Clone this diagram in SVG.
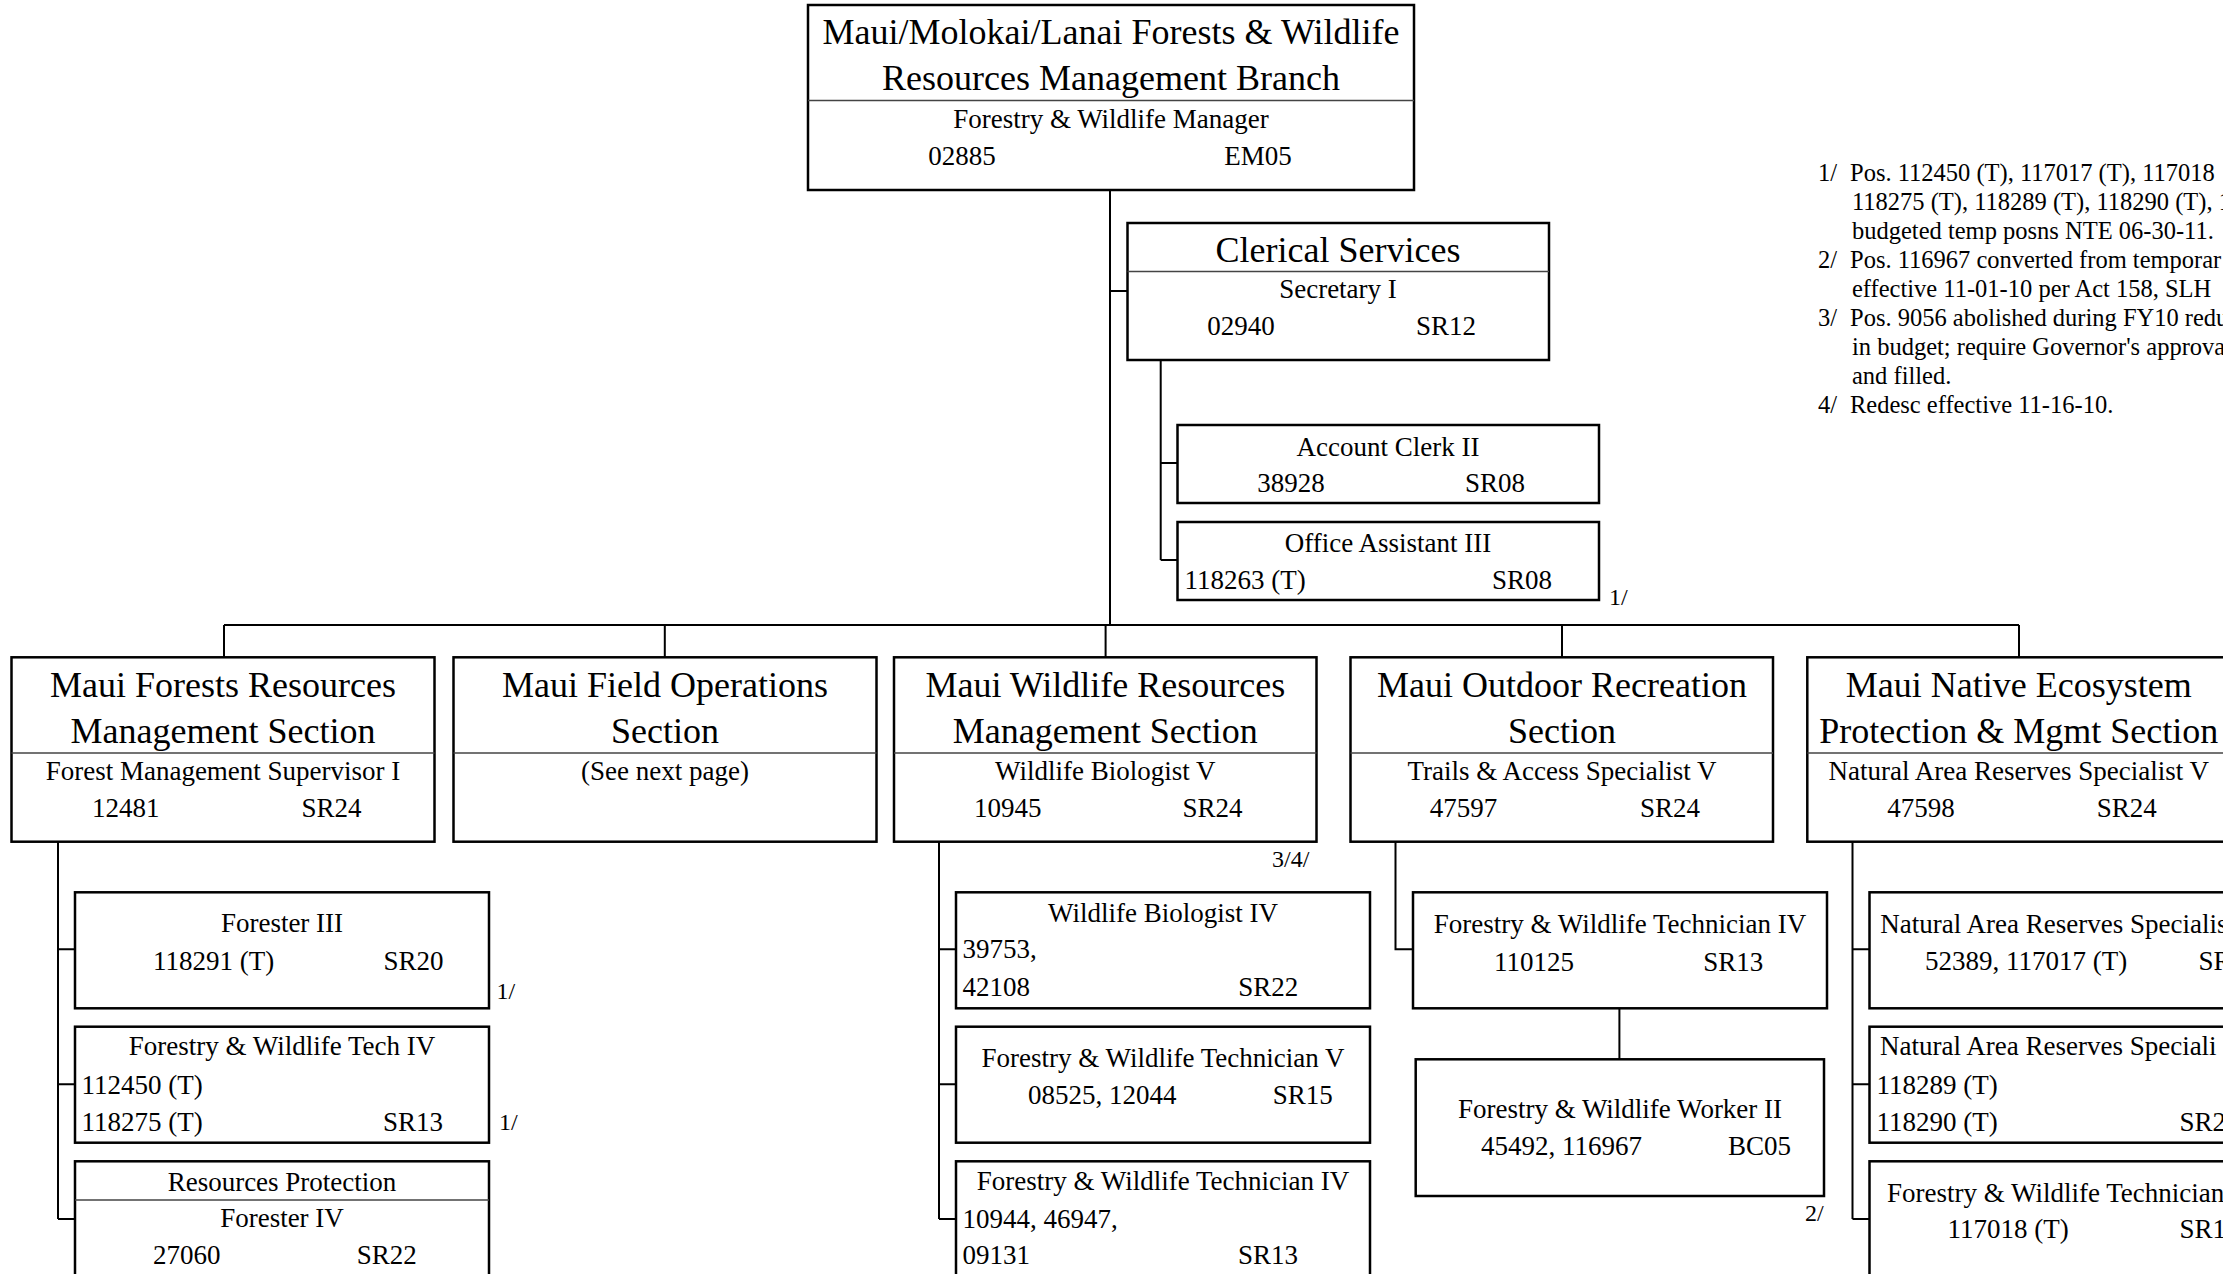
<svg xmlns="http://www.w3.org/2000/svg" width="2223" height="1274" viewBox="0 0 2223 1274">
<style>
  text { font-family: "Liberation Serif", "Times New Roman", serif; fill: #000; }
  .box { fill: #fff; stroke: #000; stroke-width: 2.5; }
  .dv { stroke: #444; stroke-width: 1.5; fill: none; }
  .conn { stroke: #000; stroke-width: 2; fill: none; }
  .h { font-size: 36px; text-anchor: middle; }
  .b { font-size: 27px; text-anchor: middle; }
  .bl { font-size: 27px; text-anchor: start; }
  .fn { font-size: 24.5px; }
  .note { font-size: 24px; }
</style>
<rect width="2223" height="1274" fill="#fff"/>

<g id="connectors">
  <path class="conn" d="M1110,190 V625"/>
  <path class="conn" d="M1110,291 H1127.5"/>
  <path class="conn" d="M1160.7,360 V560 M1160.7,463 H1177.5 M1160.7,560 H1177.5"/>
  <path class="conn" d="M224,625 H2019"/>
  <path class="conn" d="M224,625 V657 M664.8,625 V657 M1105.6,625 V657 M1562,625 V657 M2019,625 V657"/>
  <path class="conn" d="M58,842 V1219 M58,949.3 H75 M58,1084.3 H75 M58,1219 H75"/>
  <path class="conn" d="M939,842 V1219 M939,949.3 H956 M939,1084.3 H956 M939,1219 H956"/>
  <path class="conn" d="M1395.5,842 V949.3 H1413"/>
  <path class="conn" d="M1619.4,1008 V1059.3"/>
  <path class="conn" d="M1852.5,842 V1219 M1852.5,949.3 H1869.5 M1852.5,1084.3 H1869.5 M1852.5,1219 H1869.5"/>
</g>

<g id="branch">
  <rect class="box" x="808" y="5" width="606" height="185"/>
  <line class="dv" x1="808" y1="100.5" x2="1414" y2="100.5"/>
  <text class="h" x="1111" y="44">Maui/Molokai/Lanai Forests &amp; Wildlife</text>
  <text class="h" x="1111" y="90">Resources Management Branch</text>
  <text class="b" x="1111" y="128">Forestry &amp; Wildlife Manager</text>
  <text class="b" x="962" y="165">02885</text>
  <text class="b" x="1258" y="165">EM05</text>
</g>

<g id="clerical">
  <rect class="box" x="1127.5" y="223" width="421.5" height="137"/>
  <line class="dv" x1="1127.5" y1="271.5" x2="1549" y2="271.5"/>
  <text class="h" x="1338" y="262">Clerical Services</text>
  <text class="b" x="1338" y="298">Secretary I</text>
  <text class="b" x="1241" y="335">02940</text>
  <text class="b" x="1446" y="335">SR12</text>
</g>

<g id="account-clerk">
  <rect class="box" x="1177.5" y="425" width="421.5" height="78"/>
  <text class="b" x="1388" y="455.5">Account Clerk II</text>
  <text class="b" x="1291" y="492">38928</text>
  <text class="b" x="1495" y="492">SR08</text>
</g>

<g id="office-assistant">
  <rect class="box" x="1177.5" y="522" width="421.5" height="78"/>
  <text class="b" x="1388" y="552">Office Assistant III</text>
  <text class="bl" x="1184.5" y="588.5">118263 (T)</text>
  <text class="b" x="1522" y="588.5">SR08</text>
  <text class="note" x="1609" y="605">1/</text>
</g>

<g id="forests-section">
  <rect class="box" x="11.5" y="657.3" width="423" height="184.4"/>
  <line class="dv" x1="11.5" y1="753" x2="434.5" y2="753"/>
  <text class="h" x="223" y="697">Maui Forests Resources</text>
  <text class="h" x="223" y="743">Management Section</text>
  <text class="b" x="223" y="780">Forest Management Supervisor I</text>
  <text class="b" x="125.7" y="817">12481</text>
  <text class="b" x="331.5" y="817">SR24</text>
</g>

<g id="field-ops-section">
  <rect class="box" x="453.5" y="657.3" width="423" height="184.4"/>
  <line class="dv" x1="453.5" y1="753" x2="876.5" y2="753"/>
  <text class="h" x="665" y="697">Maui Field Operations</text>
  <text class="h" x="665" y="743">Section</text>
  <text class="b" x="665" y="780">(See next page)</text>
</g>

<g id="wildlife-section">
  <rect class="box" x="894" y="657.3" width="422.5" height="184.4"/>
  <line class="dv" x1="894" y1="753" x2="1316.5" y2="753"/>
  <text class="h" x="1105.3" y="697">Maui Wildlife Resources</text>
  <text class="h" x="1105.3" y="743">Management Section</text>
  <text class="b" x="1105.3" y="780">Wildlife Biologist V</text>
  <text class="b" x="1007.7" y="817">10945</text>
  <text class="b" x="1212.6" y="817">SR24</text>
  <text class="note" x="1272" y="867">3/4/</text>
</g>

<g id="outdoor-section">
  <rect class="box" x="1350.5" y="657.3" width="422.5" height="184.4"/>
  <line class="dv" x1="1350.5" y1="753" x2="1773" y2="753"/>
  <text class="h" x="1562" y="697">Maui Outdoor Recreation</text>
  <text class="h" x="1562" y="743">Section</text>
  <text class="b" x="1562" y="780">Trails &amp; Access Specialist V</text>
  <text class="b" x="1463.6" y="817">47597</text>
  <text class="b" x="1670" y="817">SR24</text>
</g>

<g id="native-section">
  <rect class="box" x="1807.3" y="657.3" width="423" height="184.4"/>
  <line class="dv" x1="1807.3" y1="753" x2="2230.3" y2="753"/>
  <text class="h" x="2018.8" y="697">Maui Native Ecosystem</text>
  <text class="h" x="2018.8" y="743">Protection &amp; Mgmt Section</text>
  <text class="b" x="2018.8" y="780">Natural Area Reserves Specialist V</text>
  <text class="b" x="1921" y="817">47598</text>
  <text class="b" x="2126.7" y="817">SR24</text>
</g>

<g id="forester-iii">
  <rect class="box" x="75" y="892.3" width="414" height="116"/>
  <text class="b" x="282" y="931.7">Forester III</text>
  <text class="b" x="213.6" y="970">118291 (T)</text>
  <text class="b" x="413.6" y="970">SR20</text>
  <text class="note" x="496.4" y="999">1/</text>
</g>

<g id="fw-tech-iv-forests">
  <rect class="box" x="75" y="1026.7" width="414" height="116"/>
  <text class="b" x="282" y="1055">Forestry &amp; Wildlife Tech IV</text>
  <text class="bl" x="81.5" y="1094.3">112450 (T)</text>
  <text class="bl" x="81.5" y="1131">118275 (T)</text>
  <text class="b" x="413" y="1131">SR13</text>
  <text class="note" x="499" y="1130">1/</text>
</g>

<g id="resources-protection">
  <rect class="box" x="75" y="1161.3" width="414" height="140"/>
  <line class="dv" x1="75" y1="1200" x2="489" y2="1200"/>
  <text class="b" x="282" y="1190.7">Resources Protection</text>
  <text class="b" x="282" y="1227.3">Forester IV</text>
  <text class="b" x="186.8" y="1264.3">27060</text>
  <text class="b" x="386.8" y="1264.3">SR22</text>
</g>

<g id="wildlife-biologist-iv">
  <rect class="box" x="956" y="892.3" width="414" height="116"/>
  <text class="b" x="1163" y="921.7">Wildlife Biologist IV</text>
  <text class="bl" x="962.5" y="958.3">39753,</text>
  <text class="bl" x="962.5" y="995.7">42108</text>
  <text class="b" x="1268.3" y="995.7">SR22</text>
</g>

<g id="fw-tech-v">
  <rect class="box" x="956" y="1026.7" width="414" height="116"/>
  <text class="b" x="1163" y="1066.7">Forestry &amp; Wildlife Technician V</text>
  <text class="b" x="1102.3" y="1104">08525, 12044</text>
  <text class="b" x="1302.8" y="1104">SR15</text>
</g>

<g id="fw-tech-iv-wildlife">
  <rect class="box" x="956" y="1161.3" width="414" height="140"/>
  <text class="b" x="1163" y="1190">Forestry &amp; Wildlife Technician IV</text>
  <text class="bl" x="962.5" y="1227.7">10944, 46947,</text>
  <text class="bl" x="962.5" y="1264.3">09131</text>
  <text class="b" x="1268" y="1264.3">SR13</text>
</g>

<g id="fw-tech-iv-outdoor">
  <rect class="box" x="1413" y="892.3" width="414" height="116"/>
  <text class="b" x="1620" y="933.3">Forestry &amp; Wildlife Technician IV</text>
  <text class="b" x="1534" y="970.7">110125</text>
  <text class="b" x="1733.3" y="970.7">SR13</text>
</g>

<g id="fw-worker-ii">
  <rect class="box" x="1415.7" y="1059.3" width="408.3" height="136.7"/>
  <text class="b" x="1620" y="1118.3">Forestry &amp; Wildlife Worker II</text>
  <text class="b" x="1561.4" y="1155">45492, 116967</text>
  <text class="b" x="1759.6" y="1155">BC05</text>
  <text class="note" x="1805" y="1221">2/</text>
</g>

<g id="nar-specialist-a">
  <rect class="box" x="1869.5" y="892.3" width="414" height="116"/>
  <text class="bl" x="1880.3" y="932.7">Natural Area Reserves Specialis</text>
  <text class="bl" x="1925" y="970">52389, 117017 (T)</text>
  <text class="bl" x="2198.5" y="970">SR</text>
</g>

<g id="nar-specialist-b">
  <rect class="box" x="1869.5" y="1026.7" width="414" height="116"/>
  <text class="bl" x="1880" y="1055">Natural Area Reserves Speciali</text>
  <text class="bl" x="1876.5" y="1094">118289 (T)</text>
  <text class="bl" x="1876.5" y="1131">118290 (T)</text>
  <text class="bl" x="2179.5" y="1131">SR2</text>
</g>

<g id="fw-tech-native">
  <rect class="box" x="1869.5" y="1161.3" width="414" height="140"/>
  <text class="bl" x="1887" y="1201.7">Forestry &amp; Wildlife Technician</text>
  <text class="bl" x="1947.5" y="1238.3">117018 (T)</text>
  <text class="bl" x="2179.5" y="1238.3">SR1</text>
</g>

<g id="footnotes">
  <text class="fn" x="1818" y="181">1/</text>
  <text class="fn" x="1850" y="181">Pos. 112450 (T), 117017 (T), 117018</text>
  <text class="fn" x="1852" y="210">118275 (T), 118289 (T), 118290 (T), 1</text>
  <text class="fn" x="1852" y="239">budgeted temp posns NTE 06-30-11.</text>
  <text class="fn" x="1818" y="268">2/</text>
  <text class="fn" x="1850" y="268">Pos. 116967 converted from temporar</text>
  <text class="fn" x="1852" y="297">effective 11-01-10 per Act 158, SLH</text>
  <text class="fn" x="1818" y="326">3/</text>
  <text class="fn" x="1850" y="326">Pos. 9056 abolished during FY10 redu</text>
  <text class="fn" x="1852" y="355">in budget; require Governor's approva</text>
  <text class="fn" x="1852" y="384">and filled.</text>
  <text class="fn" x="1818" y="413">4/</text>
  <text class="fn" x="1850" y="413">Redesc effective 11-16-10.</text>
</g>
</svg>
